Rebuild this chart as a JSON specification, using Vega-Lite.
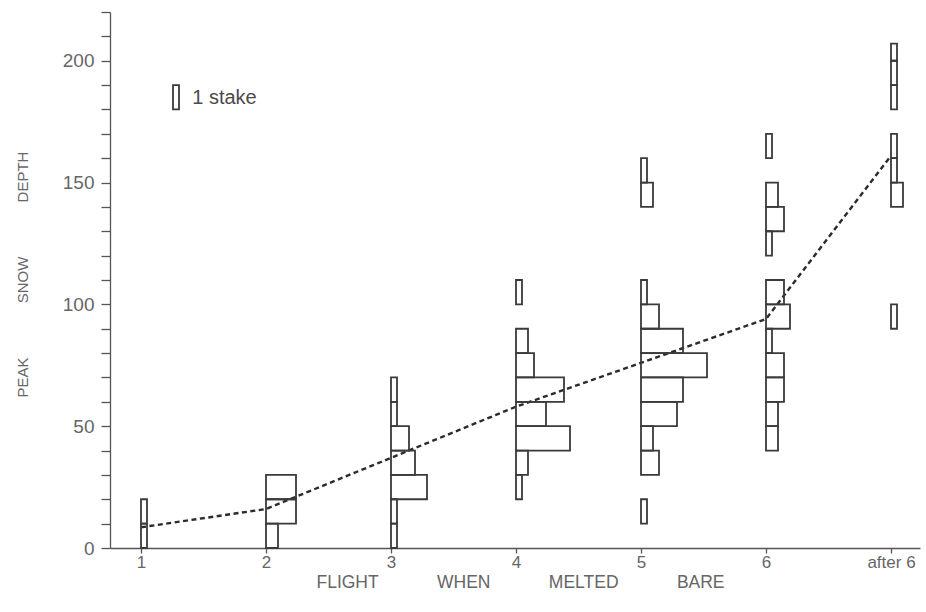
{
  "$schema": "https://vega.github.io/schema/vega-lite/v6.json",
  "width": 810,
  "height": 536,
  "autosize": "none",
  "padding": {"left": 110, "top": 12, "right": 6, "bottom": 64},
  "background": "white",
  "config": {"view": {"stroke": null}},
  "datasets": {
    "means": [
      {"flight": 1, "mean": 8.5},
      {"flight": 2, "mean": 16},
      {"flight": 3, "mean": 37},
      {"flight": 4, "mean": 58},
      {"flight": 5, "mean": 76},
      {"flight": 6, "mean": 94},
      {"flight": 7, "mean": 161}
    ],
    "stakes": [
      {"flight": 1, "lo": 0, "hi": 10, "n": 1},
      {"flight": 1, "lo": 10, "hi": 20, "n": 1},
      {"flight": 2, "lo": 0, "hi": 10, "n": 2},
      {"flight": 2, "lo": 10, "hi": 20, "n": 5},
      {"flight": 2, "lo": 20, "hi": 30, "n": 5},
      {"flight": 3, "lo": 0, "hi": 10, "n": 1},
      {"flight": 3, "lo": 10, "hi": 20, "n": 1},
      {"flight": 3, "lo": 20, "hi": 30, "n": 6},
      {"flight": 3, "lo": 30, "hi": 40, "n": 4},
      {"flight": 3, "lo": 40, "hi": 50, "n": 3},
      {"flight": 3, "lo": 50, "hi": 60, "n": 1},
      {"flight": 3, "lo": 60, "hi": 70, "n": 1},
      {"flight": 4, "lo": 20, "hi": 30, "n": 1},
      {"flight": 4, "lo": 30, "hi": 40, "n": 2},
      {"flight": 4, "lo": 40, "hi": 50, "n": 9},
      {"flight": 4, "lo": 50, "hi": 60, "n": 5},
      {"flight": 4, "lo": 60, "hi": 70, "n": 8},
      {"flight": 4, "lo": 70, "hi": 80, "n": 3},
      {"flight": 4, "lo": 80, "hi": 90, "n": 2},
      {"flight": 4, "lo": 100, "hi": 110, "n": 1},
      {"flight": 5, "lo": 10, "hi": 20, "n": 1},
      {"flight": 5, "lo": 30, "hi": 40, "n": 3},
      {"flight": 5, "lo": 40, "hi": 50, "n": 2},
      {"flight": 5, "lo": 50, "hi": 60, "n": 6},
      {"flight": 5, "lo": 60, "hi": 70, "n": 7},
      {"flight": 5, "lo": 70, "hi": 80, "n": 11},
      {"flight": 5, "lo": 80, "hi": 90, "n": 7},
      {"flight": 5, "lo": 90, "hi": 100, "n": 3},
      {"flight": 5, "lo": 100, "hi": 110, "n": 1},
      {"flight": 5, "lo": 140, "hi": 150, "n": 2},
      {"flight": 5, "lo": 150, "hi": 160, "n": 1},
      {"flight": 6, "lo": 40, "hi": 50, "n": 2},
      {"flight": 6, "lo": 50, "hi": 60, "n": 2},
      {"flight": 6, "lo": 60, "hi": 70, "n": 3},
      {"flight": 6, "lo": 70, "hi": 80, "n": 3},
      {"flight": 6, "lo": 80, "hi": 90, "n": 1},
      {"flight": 6, "lo": 90, "hi": 100, "n": 4},
      {"flight": 6, "lo": 100, "hi": 110, "n": 3},
      {"flight": 6, "lo": 120, "hi": 130, "n": 1},
      {"flight": 6, "lo": 130, "hi": 140, "n": 3},
      {"flight": 6, "lo": 140, "hi": 150, "n": 2},
      {"flight": 6, "lo": 160, "hi": 170, "n": 1},
      {"flight": 7, "lo": 90, "hi": 100, "n": 1},
      {"flight": 7, "lo": 140, "hi": 150, "n": 2},
      {"flight": 7, "lo": 150, "hi": 160, "n": 1},
      {"flight": 7, "lo": 160, "hi": 170, "n": 1},
      {"flight": 7, "lo": 180, "hi": 190, "n": 1},
      {"flight": 7, "lo": 190, "hi": 200, "n": 1},
      {"flight": 7, "lo": 200, "hi": 207, "n": 1}
    ]
  },
  "resolve": {"scale": {"x": "independent"}, "axis": {"x": "independent", "y": "independent"}},
  "layer": [
    {
      "data": {"name": "means"},
      "mark": {"type": "line", "strokeDash": [5, 3.5], "strokeWidth": 2.4, "color": "#2b2b2b"},
      "encoding": {
        "x": {
          "field": "flight", "type": "quantitative",
          "scale": {"domain": [0.752, 7.232], "nice": false, "zero": false},
          "axis": {
            "values": [1, 2, 3, 4, 5, 6, 7],
            "labelExpr": "datum.value == 7 ? 'after 6' : datum.label",
            "title": "FLIGHT\u00a0\u00a0\u00a0\u00a0\u00a0\u00a0\u00a0\u00a0\u00a0\u00a0\u00a0\u00a0WHEN\u00a0\u00a0\u00a0\u00a0\u00a0\u00a0\u00a0\u00a0\u00a0\u00a0\u00a0\u00a0MELTED\u00a0\u00a0\u00a0\u00a0\u00a0\u00a0\u00a0\u00a0\u00a0\u00a0\u00a0\u00a0BARE",
            "grid": false, "tickSize": 5, "labelPadding": 1, "labelFlush": false, "labelOverlap": false,
            "labelFont": "Liberation Sans", "labelFontSize": 17, "labelColor": "#666666",
            "domainColor": "#555555", "tickColor": "#555555", "domainWidth": 1.3, "tickWidth": 1.3,
            "titleFont": "Liberation Sans", "titleFontSize": 17.5, "titleFontWeight": "normal", "titleColor": "#666666",
            "titleX": 410, "titleY": 39, "titleBaseline": "alphabetic", "titleAlign": "center"
          }
        },
        "y": {
          "field": "mean", "type": "quantitative",
          "scale": {"domain": [0, 220], "nice": false},
          "axis": {
            "values": [0, 10, 20, 30, 40, 50, 60, 70, 80, 90, 100, 110, 120, 130, 140, 150, 160, 170, 180, 190, 200, 210, 220],
            "labelExpr": "datum.value % 50 == 0 ? datum.label : ''",
            "title": "PEAK\u00a0\u00a0\u00a0\u00a0\u00a0\u00a0\u00a0\u00a0\u00a0\u00a0\u00a0\u00a0\u00a0SNOW\u00a0\u00a0\u00a0\u00a0\u00a0\u00a0\u00a0\u00a0\u00a0\u00a0\u00a0\u00a0\u00a0DEPTH",
            "grid": false, "tickSize": 9, "labelPadding": 7,
            "labelFont": "Liberation Sans", "labelFontSize": 19, "labelColor": "#666666",
            "domainColor": "#555555", "tickColor": "#555555", "domainWidth": 1.3, "tickWidth": 1.3,
            "titleFont": "Liberation Sans", "titleFontSize": 15, "titleFontWeight": "normal", "titleColor": "#666666",
            "titleX": -88, "titleY": 262, "titleBaseline": "middle", "titleAlign": "center", "titleAngle": 270
          }
        }
      }
    },
    {
      "data": {"name": "stakes"},
      "transform": [{"filter": "datum.flight == 1"}],
      "mark": {"type": "rect", "fill": "transparent", "stroke": "#3a3a3a", "strokeWidth": 1.8},
      "encoding": {
        "x": {"field": "n", "type": "quantitative", "scale": {"domain": [-5.1667, 129.8333], "nice": false, "zero": false}, "axis": null},
        "x2": {"datum": 0},
        "y": {"field": "lo", "type": "quantitative", "scale": {"domain": [0, 220], "nice": false}, "axis": null},
        "y2": {"field": "hi"}
      }
    },
    {
      "data": {"name": "stakes"},
      "transform": [{"filter": "datum.flight == 2"}],
      "mark": {"type": "rect", "fill": "transparent", "stroke": "#3a3a3a", "strokeWidth": 1.8},
      "encoding": {
        "x": {"field": "n", "type": "quantitative", "scale": {"domain": [-26, 109], "nice": false, "zero": false}, "axis": null},
        "x2": {"datum": 0},
        "y": {"field": "lo", "type": "quantitative", "scale": {"domain": [0, 220], "nice": false}, "axis": null},
        "y2": {"field": "hi"}
      }
    },
    {
      "data": {"name": "stakes"},
      "transform": [{"filter": "datum.flight == 3"}],
      "mark": {"type": "rect", "fill": "transparent", "stroke": "#3a3a3a", "strokeWidth": 1.8},
      "encoding": {
        "x": {"field": "n", "type": "quantitative", "scale": {"domain": [-46.8333, 88.1667], "nice": false, "zero": false}, "axis": null},
        "x2": {"datum": 0},
        "y": {"field": "lo", "type": "quantitative", "scale": {"domain": [0, 220], "nice": false}, "axis": null},
        "y2": {"field": "hi"}
      }
    },
    {
      "data": {"name": "stakes"},
      "transform": [{"filter": "datum.flight == 4"}],
      "mark": {"type": "rect", "fill": "transparent", "stroke": "#3a3a3a", "strokeWidth": 1.8},
      "encoding": {
        "x": {"field": "n", "type": "quantitative", "scale": {"domain": [-67.6667, 67.3333], "nice": false, "zero": false}, "axis": null},
        "x2": {"datum": 0},
        "y": {"field": "lo", "type": "quantitative", "scale": {"domain": [0, 220], "nice": false}, "axis": null},
        "y2": {"field": "hi"}
      }
    },
    {
      "data": {"name": "stakes"},
      "transform": [{"filter": "datum.flight == 5"}],
      "mark": {"type": "rect", "fill": "transparent", "stroke": "#3a3a3a", "strokeWidth": 1.8},
      "encoding": {
        "x": {"field": "n", "type": "quantitative", "scale": {"domain": [-88.5, 46.5], "nice": false, "zero": false}, "axis": null},
        "x2": {"datum": 0},
        "y": {"field": "lo", "type": "quantitative", "scale": {"domain": [0, 220], "nice": false}, "axis": null},
        "y2": {"field": "hi"}
      }
    },
    {
      "data": {"name": "stakes"},
      "transform": [{"filter": "datum.flight == 6"}],
      "mark": {"type": "rect", "fill": "transparent", "stroke": "#3a3a3a", "strokeWidth": 1.8},
      "encoding": {
        "x": {"field": "n", "type": "quantitative", "scale": {"domain": [-109.3333, 25.6667], "nice": false, "zero": false}, "axis": null},
        "x2": {"datum": 0},
        "y": {"field": "lo", "type": "quantitative", "scale": {"domain": [0, 220], "nice": false}, "axis": null},
        "y2": {"field": "hi"}
      }
    },
    {
      "data": {"name": "stakes"},
      "transform": [{"filter": "datum.flight == 7"}],
      "mark": {"type": "rect", "fill": "transparent", "stroke": "#3a3a3a", "strokeWidth": 1.8},
      "encoding": {
        "x": {"field": "n", "type": "quantitative", "scale": {"domain": [-130.1667, 4.8333], "nice": false, "zero": false}, "axis": null},
        "x2": {"datum": 0},
        "y": {"field": "lo", "type": "quantitative", "scale": {"domain": [0, 220], "nice": false}, "axis": null},
        "y2": {"field": "hi"}
      }
    },
    {
      "data": {"values": [{}]},
      "mark": {"type": "rect", "fill": "transparent", "stroke": "#3a3a3a", "strokeWidth": 1.8},
      "encoding": {
        "x": {"datum": 0, "type": "quantitative", "scale": {"domain": [-10.5, 124.5], "nice": false, "zero": false}, "axis": null},
        "x2": {"datum": 1},
        "y": {"datum": 180, "type": "quantitative", "scale": {"domain": [0, 220], "nice": false}, "axis": null},
        "y2": {"datum": 190}
      }
    },
    {
      "data": {"values": [{}]},
      "mark": {"type": "text", "text": "1 stake", "align": "left", "baseline": "middle", "font": "Liberation Sans", "fontSize": 20, "color": "#4a4a4a"},
      "encoding": {
        "x": {"datum": 3.2, "type": "quantitative", "scale": {"domain": [-10.5, 124.5], "nice": false, "zero": false}, "axis": null},
        "y": {"datum": 184.5, "type": "quantitative", "scale": {"domain": [0, 220], "nice": false}, "axis": null}
      }
    }
  ]
}
